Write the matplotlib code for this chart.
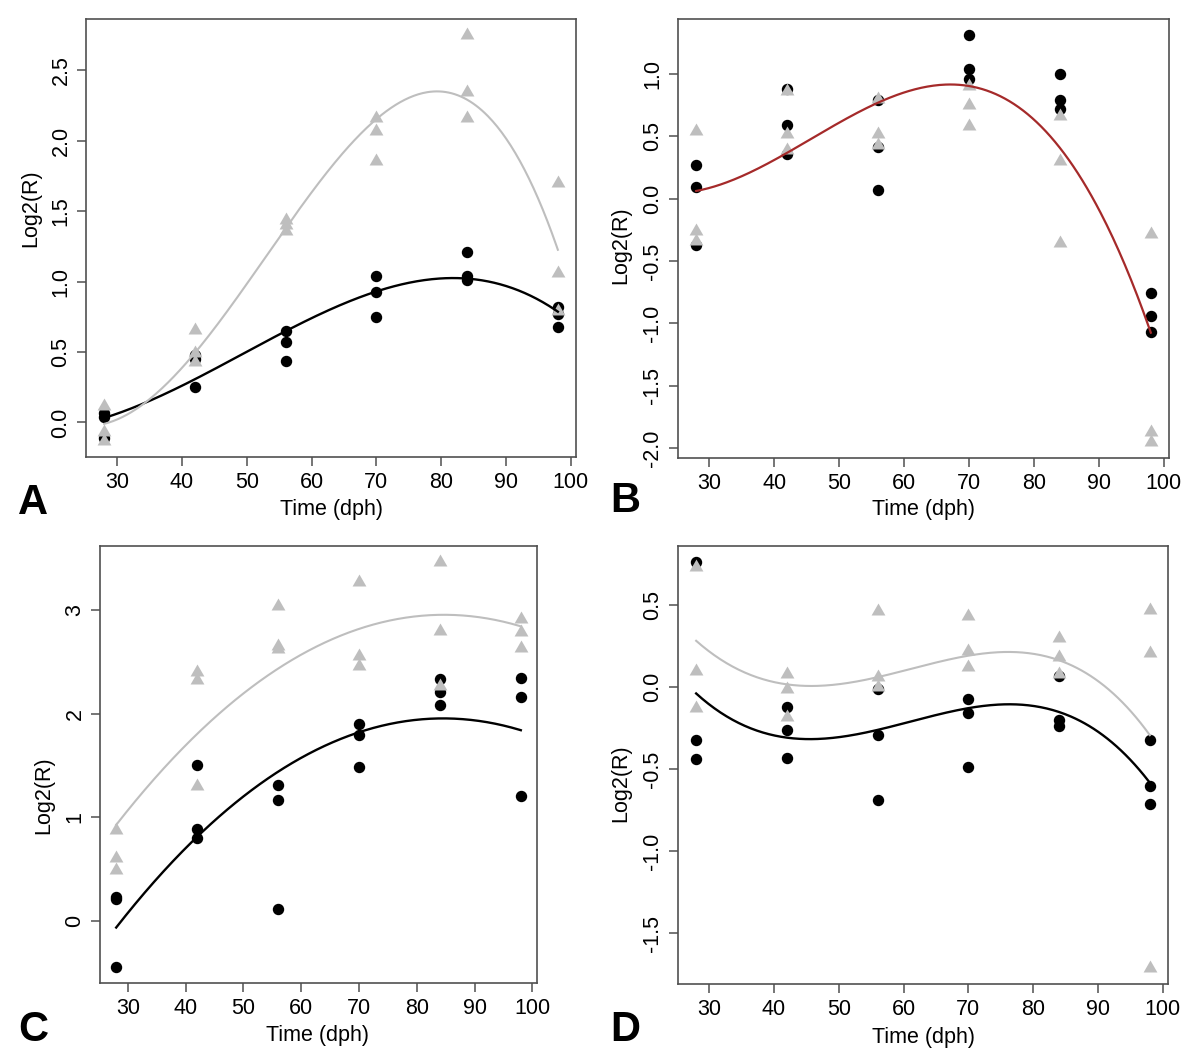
import matplotlib
matplotlib.use('Agg')
import matplotlib.pyplot as plt
import numpy as np

plt.rcParams['font.family'] = ['Liberation Sans', 'DejaVu Sans']

# Sampling days (dph)
days = [28, 42, 56, 70, 84, 98]

# Replicate Log2(R) values per day
# black circles / grey triangles
A_black = [[0.07, 0.04, -0.11], [0.48, 0.45, 0.25], [0.65, 0.57, 0.44],
           [1.04, 0.93, 0.75], [1.21, 1.04, 1.01], [0.82, 0.77, 0.68]]
A_grey = [[0.12, -0.07, -0.13], [0.66, 0.49, 0.43], [1.44, 1.40, 1.36],
          [2.16, 2.07, 1.86], [2.75, 2.35, 2.16], [1.70, 1.06, 0.79]]

B_black = [[0.27, 0.09, -0.37], [0.88, 0.59, 0.36], [0.79, 0.41, 0.07],
           [1.31, 1.04, 0.96], [1.00, 0.79, 0.72], [-0.76, -0.94, -1.07]]
B_grey = [[0.54, -0.26, -0.34], [0.86, 0.52, 0.39], [0.80, 0.52, 0.43],
          [0.90, 0.75, 0.58], [0.66, 0.30, -0.36], [-0.28, -1.87, -1.95]]

C_black = [[0.23, 0.21, -0.44], [1.51, 0.89, 0.80], [1.31, 1.17, 0.12],
           [1.90, 1.79, 1.49], [2.33, 2.21, 2.08], [2.34, 2.16, 1.21]]
C_grey = [[0.88, 0.61, 0.49], [2.40, 2.32, 1.30], [3.04, 2.65, 2.62],
          [3.27, 2.56, 2.46], [3.46, 2.80, 2.27], [2.91, 2.79, 2.63]]

D_black = [[0.76, -0.32, -0.44], [-0.12, -0.26, -0.43], [-0.01, -0.29, -0.69],
           [-0.07, -0.16, -0.49], [0.07, -0.20, -0.24], [-0.32, -0.60, -0.71]]
D_grey = [[0.73, 0.10, -0.13], [0.08, -0.01, -0.18], [0.46, 0.06, 0.00],
          [0.43, 0.22, 0.12], [0.30, 0.18, 0.08], [0.47, 0.21, -1.71]]

# Fitted trend curves, values at these days
fit_days = [28, 35, 42, 49, 56, 63, 70, 77, 84, 91, 98]
A_black_fit = [0.03, 0.16, 0.30, 0.48, 0.645, 0.81, 0.93, 1.005, 1.024, 0.953, 0.787]
A_grey_fit = [-0.01, 0.17, 0.48, 0.93, 1.38, 1.81, 2.15, 2.34, 2.29, 1.95, 1.225]
B_fit = [0.06, 0.18, 0.37, 0.58, 0.77, 0.88, 0.90, 0.78, 0.40, -0.20, -1.07]
C_black_fit = [-0.074, 0.423, 0.813, 1.159, 1.441, 1.655, 1.825, 1.912, 1.95, 1.934, 1.841]
C_grey_fit = [0.919, 1.399, 1.816, 2.152, 2.44, 2.648, 2.808, 2.914, 2.952, 2.936, 2.84]
D_black_fit = [-0.043, -0.22, -0.305, -0.322, -0.261, -0.189, -0.124, -0.102, -0.159, -0.301, -0.582]
D_grey_fit = [0.273, 0.116, 0.014, 0.004, 0.051, 0.13, 0.198, 0.224, 0.163, -0.012, -0.285]

y_ticks = {
    'A': [0.0, 0.5, 1.0, 1.5, 2.0, 2.5],
    'B': [-2.0, -1.5, -1.0, -0.5, 0.0, 0.5, 1.0],
    'C': [0, 1, 2, 3],
    'D': [-1.5, -1.0, -0.5, 0.0, 0.5],
}
x_ticks = [30, 40, 50, 60, 70, 80, 90, 100]

GREY = '#bebebe'
BOX = '#505050'
W, H = 1200, 1063

# panel boxes in pixels: left, top, right, bottom
boxes = {
    'A': (86, 19, 576, 457),
    'B': (678, 19, 1169, 458),
    'C': (100, 546, 537, 983),
    'D': (678, 546, 1168, 984),
}
ylab_pos = {'A': (31, 208), 'B': (621, 245), 'C': (44, 795), 'D': (621, 783)}
xlab_pos = {'A': (332, 509), 'B': (924, 509), 'C': (318, 1035), 'D': (923, 1038)}
letter_pos = {'A': (33, 503), 'B': (625, 501), 'C': (33, 1030), 'D': (625, 1030)}

panels = {
    'A': (A_black, A_grey, [(A_black_fit, 'black', 1.7), (A_grey_fit, GREY, 1.5)], 4),
    'B': (B_black, B_grey, [(B_fit, '#a52a2a', 1.6)], 4),
    'C': (C_black, C_grey, [(C_black_fit, 'black', 1.7), (C_grey_fit, GREY, 1.5)], 2),
    'D': (D_black, D_grey, [(D_black_fit, 'black', 1.7), (D_grey_fit, GREY, 1.5)], 4),
}

# R style filled triangle (pch 17), centroid on the data point
tri = [(0, 1.555), (-1.347, -0.778), (1.347, -0.778)]

fig = plt.figure(figsize=(12, 10.63), dpi=100)

for key, (blk, gry, fits, deg) in panels.items():
    l, t, r, b = boxes[key]
    ax = fig.add_axes([l / W, 1 - b / H, (r - l) / W, (b - t) / H])

    xb = np.repeat(days, 3)
    ax.plot(xb, np.ravel(blk), 'o', color='black', markersize=7.2, zorder=2)
    ax.plot(xb, np.ravel(gry), linestyle='none', marker=tri, color=GREY,
            markersize=11.5, markeredgewidth=0, zorder=3)

    xs = np.linspace(28, 98, 300)
    for vals, col, lw in fits:
        coef = np.polyfit(fit_days, vals, deg)
        ax.plot(xs, np.polyval(coef, xs), color=col, linewidth=lw, zorder=4)

    # R default: data range + 4% on each side
    allx = list(days)
    ally = list(np.ravel(blk)) + list(np.ravel(gry))
    px = 0.04 * (max(allx) - min(allx))
    py = 0.04 * (max(ally) - min(ally))
    ax.set_xlim(min(allx) - px, max(allx) + px)
    ax.set_ylim(min(ally) - py, max(ally) + py)

    ax.set_xticks(x_ticks)
    ax.set_yticks(y_ticks[key])
    if key == 'C':
        ax.set_yticklabels([str(v) for v in y_ticks[key]])
    else:
        ax.set_yticklabels(['%.1f' % v for v in y_ticks[key]])
    ax.tick_params(axis='both', direction='out', length=6.5, width=1.1,
                   color=BOX, labelsize=15.5, labelcolor='black')
    ax.tick_params(axis='x', pad=4)
    ax.tick_params(axis='y', pad=4, labelrotation=90)
    for lab in ax.get_yticklabels():
        lab.set_va('center')
    for s in ax.spines.values():
        s.set_color(BOX)
        s.set_linewidth(1.2)

    yx, yy = ylab_pos[key]
    fig.text(yx / W, 1 - yy / H, 'Log2(R)', rotation=90, fontsize=15.5,
             ha='center', va='center')
    xx, xy = xlab_pos[key]
    fig.text(xx / W, 1 - xy / H, 'Time (dph)', fontsize=15.5,
             ha='center', va='center')
    lx, ly = letter_pos[key]
    fig.text(lx / W, 1 - ly / H, key, fontsize=30, fontweight='bold',
             ha='center', va='center')

fig.savefig('out.png', dpi=100)
